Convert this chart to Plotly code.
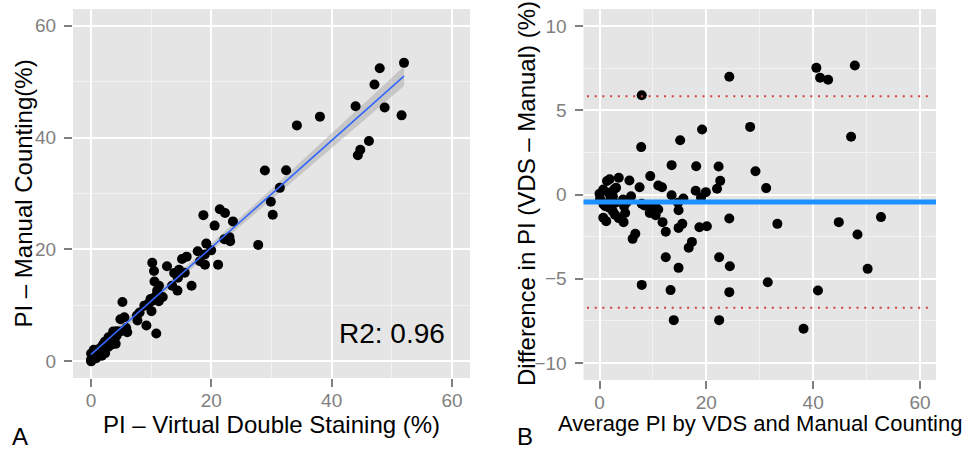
import numpy as np
import plotly.graph_objects as go

# ---- data (average, difference VDS - Manual) ----
avg_pi = [0.0, 0.1, 0.7, 1.4, 1.9, 1.1, 0.7, 1.25, 2.0, 1.9, 2.5, 2.7, 3.1, 2.9, 2.5, 2.9,
          3.6, 4.4, 4.6, 4.8, 5.1, 5.9, 3.6, 5.6, 4.5, 0.75, 1.7, 7.5, 7.9, 8.4, 6.2, 6.7,
          7.9, 7.8, 7.9, 9.5, 9.4, 10.3, 10.5, 11.0, 10.4, 9.9, 11.0, 11.7, 11.8, 12.4, 12.4,
          13.3, 13.5, 13.5, 13.9, 14.7, 14.8, 14.8, 14.8, 15.1, 15.5, 15.7, 16.7, 17.3, 18.0,
          18.1, 18.7, 19.0, 19.2, 19.9, 20.1, 22.0, 22.3, 22.6, 22.4, 22.4, 24.3, 24.3, 24.4,
          24.3, 28.2, 29.2, 31.2, 31.5, 33.3, 38.2, 40.6, 40.9, 41.3, 42.8, 44.8, 47.1, 47.8,
          48.3, 50.2, 52.7]
diff_pi = [0.04, -0.26, 0.30, 0.80, 0.90, -0.70, -1.38, -1.58, -0.30, -0.80, -0.10, 0.30,
           0.40, -0.50, -1.00, -1.20, -1.40, -0.30, -0.70, -1.10, -0.45, -0.10, 0.99, 0.83,
           -1.64, -0.59, 0.10, 0.43, -0.55, -0.65, -2.63, -2.33, 5.89, 2.81, -5.36, 1.09,
           -1.09, -0.85, -1.23, -0.89, -0.69, -0.75, 0.53, 0.43, -1.64, -2.21, -3.72, -5.67,
           1.74, -0.04, -7.45, -0.49, -0.93, -1.98, -4.35, 3.22, -1.74, -0.24, -3.16, -2.81,
           0.22, 1.68, -1.94, -0.18, 3.85, 0.14, -1.88, 0.34, 1.66, 0.81, -3.72, -7.45, 6.98,
           -1.42, -4.25, -5.79, 4.01, 1.38, 0.38, -5.20, -1.74, -7.96, 7.51, -5.69, 6.92, 6.80,
           -1.64, 3.42, 7.65, -2.37, -4.41, -1.34]

# Bland-Altman bias and limits of agreement
bias = -0.44
loa_upper = 5.83
loa_lower = -6.72
r2_text = "R2: 0.96"

avg = np.array(avg_pi)
dif = np.array(diff_pi)
vds = avg + dif / 2.0      # PI - Virtual Double Staining
manual = avg - dif / 2.0   # PI - Manual Counting

# linear fit with 95% confidence band (like geom_smooth(method="lm"))
slope, intercept = np.polyfit(vds, manual, 1)
xf = np.linspace(vds.min(), vds.max(), 80)
yf = intercept + slope * xf
n = len(vds)
resid = manual - (intercept + slope * vds)
s = np.sqrt(np.sum(resid ** 2) / (n - 2))
sxx = np.sum((vds - vds.mean()) ** 2)
se = s * np.sqrt(1.0 / n + (xf - vds.mean()) ** 2 / sxx)
tval = 1.985
lo, hi = yf - tval * se, yf + tval * se

FONT = "Liberation Sans, Arial, Helvetica, sans-serif"
BG = "#E5E5E5"
TICKC = "#7F7F7F"

fig = go.Figure()
fig.add_trace(go.Scatter(x=np.concatenate([xf, xf[::-1]]), y=np.concatenate([hi, lo[::-1]]),
                         fill="toself", fillcolor="rgba(153,153,153,0.4)", line=dict(width=0),
                         mode="lines", hoverinfo="skip", showlegend=False, xaxis="x", yaxis="y"))
fig.add_trace(go.Scatter(x=vds, y=manual, mode="markers",
                         marker=dict(color="black", size=10, line=dict(width=0)),
                         showlegend=False, xaxis="x", yaxis="y"))
fig.add_trace(go.Scatter(x=xf, y=yf, mode="lines", line=dict(color="#3366FF", width=1.6),
                         showlegend=False, xaxis="x", yaxis="y"))

fig.add_trace(go.Scatter(x=avg, y=dif, mode="markers",
                         marker=dict(color="black", size=10, line=dict(width=0)),
                         showlegend=False, xaxis="x2", yaxis="y2"))

H = 452.0
W = 972.0

def ax(domain, rng, dtick, minor_dtick, anchor):
    return dict(domain=domain, range=rng, dtick=dtick, tick0=0, showgrid=True,
                gridcolor="white", gridwidth=2, zeroline=False, showline=False,
                ticks="outside", ticklen=8, tickwidth=2, tickcolor=TICKC,
                tickfont=dict(family=FONT, size=19, color=TICKC),
                minor=dict(dtick=minor_dtick, tick0=0, showgrid=True, gridcolor="#F2F2F2",
                           gridwidth=1, ticks=""),
                anchor=anchor, fixedrange=True)

fig.update_layout(
    width=972, height=452,
    margin=dict(l=0, r=0, t=0, b=0),
    paper_bgcolor="white",
    plot_bgcolor=BG,
    xaxis=ax([73 / W, 470 / W], [-3, 63], 20, 10, "y"),
    yaxis=ax([1 - 378 / H, 1 - 9 / H], [-3, 63], 20, 10, "x"),
    xaxis2=ax([583.5 / W, 936 / W], [-3, 63], 20, 10, "y2"),
    yaxis2=ax([1 - 380 / H, 1 - 9 / H], [-11, 11], 5, 2.5, "x2"),
    font=dict(family=FONT, color="black"),
)
fig.update_yaxes(ticklabelstandoff=4)
fig.update_xaxes(ticklabelstandoff=-3)

# Bland-Altman lines
fig.add_shape(type="line", xref="x2 domain", yref="y2", x0=0, x1=1, y0=bias, y1=bias,
              line=dict(color="#1E90FF", width=5))
for v in (loa_upper, loa_lower):
    fig.add_shape(type="line", xref="x2 domain", yref="y2", x0=0.01, x1=0.985, y0=v, y1=v,
                  line=dict(color="#D04040", width=2, dash="2px,5.7px"))

ann = [
    dict(text=r2_text, x=50, y=5, xref="x", yref="y", font=dict(size=28)),
    dict(text="PI – Virtual Double Staining (%)", x=271.5 / W, y=1 - 424 / H,
         xref="paper", yref="paper", font=dict(size=24)),
    dict(text="PI – Manual Counting(%)", x=23 / W, y=1 - 193.5 / H, textangle=-90,
         xref="paper", yref="paper", font=dict(size=24)),
    dict(text="Average PI by VDS and Manual Counting", x=759.5 / W, y=1 - 423 / H,
         xref="paper", yref="paper", font=dict(size=22)),
    dict(text="Difference in PI (VDS – Manual) (%)", x=526 / W, y=1 - 194 / H, textangle=-90,
         xref="paper", yref="paper", font=dict(size=24)),
]
for a in ann:
    a.update(showarrow=False, xanchor="center", yanchor="middle")
    a["font"] = dict(family=FONT, color="black", **a["font"])
    fig.add_annotation(**a)

for lbl, xpx in (("A", 20), ("B", 525)):
    fig.add_annotation(text=lbl, x=xpx / W, y=0, xref="paper", yref="paper",
                       xanchor="center", yanchor="bottom", showarrow=False,
                       font=dict(family=FONT, color="black", size=24))

fig.write_html("out.html", config={"displayModeBar": False},
               post_script="document.body.style.margin='0';document.body.style.overflow='hidden';")
